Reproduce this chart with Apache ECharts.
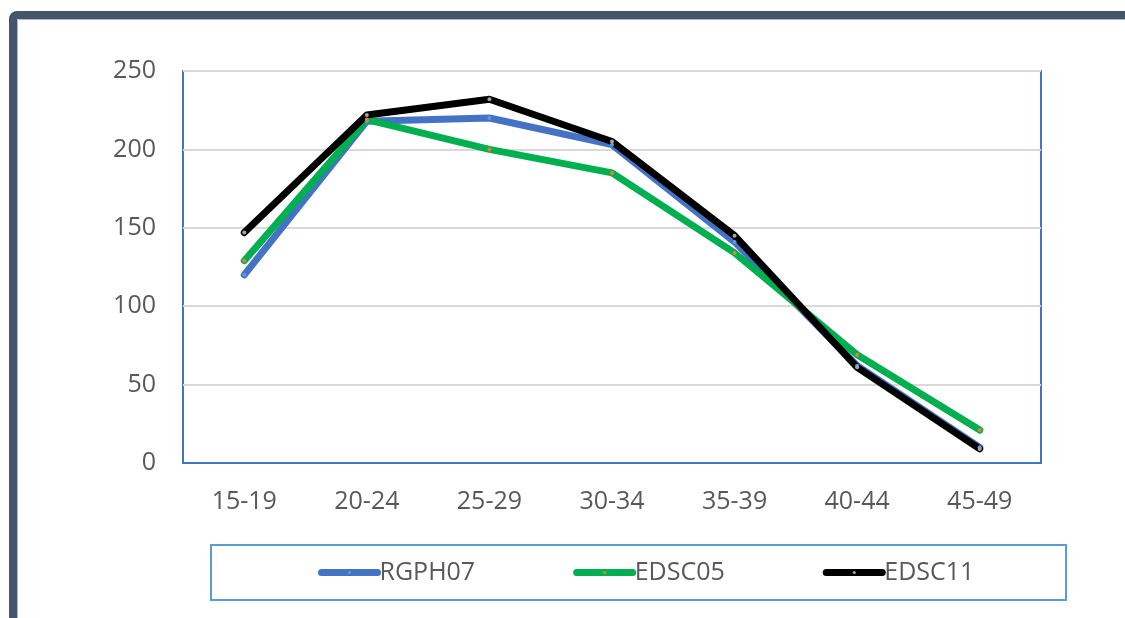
<!DOCTYPE html>
<html>
<head>
<meta charset="utf-8">
<script src="https://cdn.jsdelivr.net/npm/echarts@6/dist/echarts.min.js"></script>
<style>
html,body{margin:0;padding:0;background:#fff;}
#chart{width:1125px;height:618px;}
</style>
</head>
<body>
<div id="chart"></div>
<script>
const categories = ['15-19','20-24','25-29','30-34','35-39','40-44','45-49'];
const rgph07 = [120, 218, 220, 203, 141, 62, 10];
const edsc05 = [129, 219, 200, 185, 134, 69, 21];
const edsc11 = [147, 222, 232, 205, 145, 61, 9];
const yTicks = [0, 50, 100, 150, 200, 250];

const FONT = '"Open Sans", "Liberation Sans", sans-serif';
const chart = echarts.init(document.getElementById('chart'));

function mkSeries(name, data, color, markColor) {
  return {
    name: name,
    type: 'line',
    data: data,
    symbol: 'circle',
    symbolSize: 4,
    showSymbol: true,
    itemStyle: { color: markColor, borderWidth: 0 },
    lineStyle: { color: color, width: 7, cap: 'round', join: 'round' },
    emphasis: { disabled: true },
    animation: false
  };
}

chart.setOption({
  backgroundColor: '#ffffff',
  animation: false,
  grid: {
    left: 183, right: 84, top: 71, bottom: 155,
    show: true, borderColor: '#4472C4', borderWidth: 2, backgroundColor: 'transparent'
  },
  xAxis: {
    type: 'category',
    data: categories,
    boundaryGap: true,
    axisLine: { show: true, lineStyle: { color: '#4472C4', width: 2 } },
    axisTick: { show: false },
    axisLabel: { color: '#595959', fontSize: 25, fontFamily: FONT, margin: 26 }
  },
  yAxis: {
    type: 'value',
    min: yTicks[0], max: yTicks[yTicks.length - 1], interval: 50,
    axisLine: { show: false },
    axisTick: { show: false },
    splitLine: { lineStyle: { color: '#D9D9D9', width: 2 } },
    axisLabel: { color: '#595959', fontSize: 25, fontFamily: FONT, margin: 27 }
  },
  legend: {
    left: 313, top: 555,
    itemWidth: 56, itemHeight: 4,
    itemGap: 98,
    lineStyle: { width: 7, cap: 'round' },
    textStyle: { color: '#595959', fontSize: 25, fontFamily: FONT, padding: [0, 0, 0, -3] },
    data: ['RGPH07', 'EDSC05', 'EDSC11']
  },
  graphic: [
    {
      type: 'rect', silent: true, z: 100,
      shape: { x: 13, y: 15, width: 1200, height: 700, r: 4 },
      style: { fill: null, stroke: '#44546A', lineWidth: 8 }
    },
    {
      type: 'rect', silent: true, z: 100,
      shape: { x: 17.5, y: 19.5, width: 1200, height: 700 },
      style: { fill: null, stroke: '#ADB9CA', lineWidth: 1 }
    },
    {
      type: 'rect', silent: true, z: 100,
      shape: { x: 211, y: 545, width: 855, height: 55 },
      style: { fill: null, stroke: '#5B9BD5', lineWidth: 2 }
    }
  ],
  series: [
    mkSeries('RGPH07', rgph07, '#4472C4', '#5B9BD5'),
    mkSeries('EDSC05', edsc05, '#00B050', '#ED7D31'),
    mkSeries('EDSC11', edsc11, '#000000', '#A5A5A5')
  ]
});
</script>
</body>
</html>
